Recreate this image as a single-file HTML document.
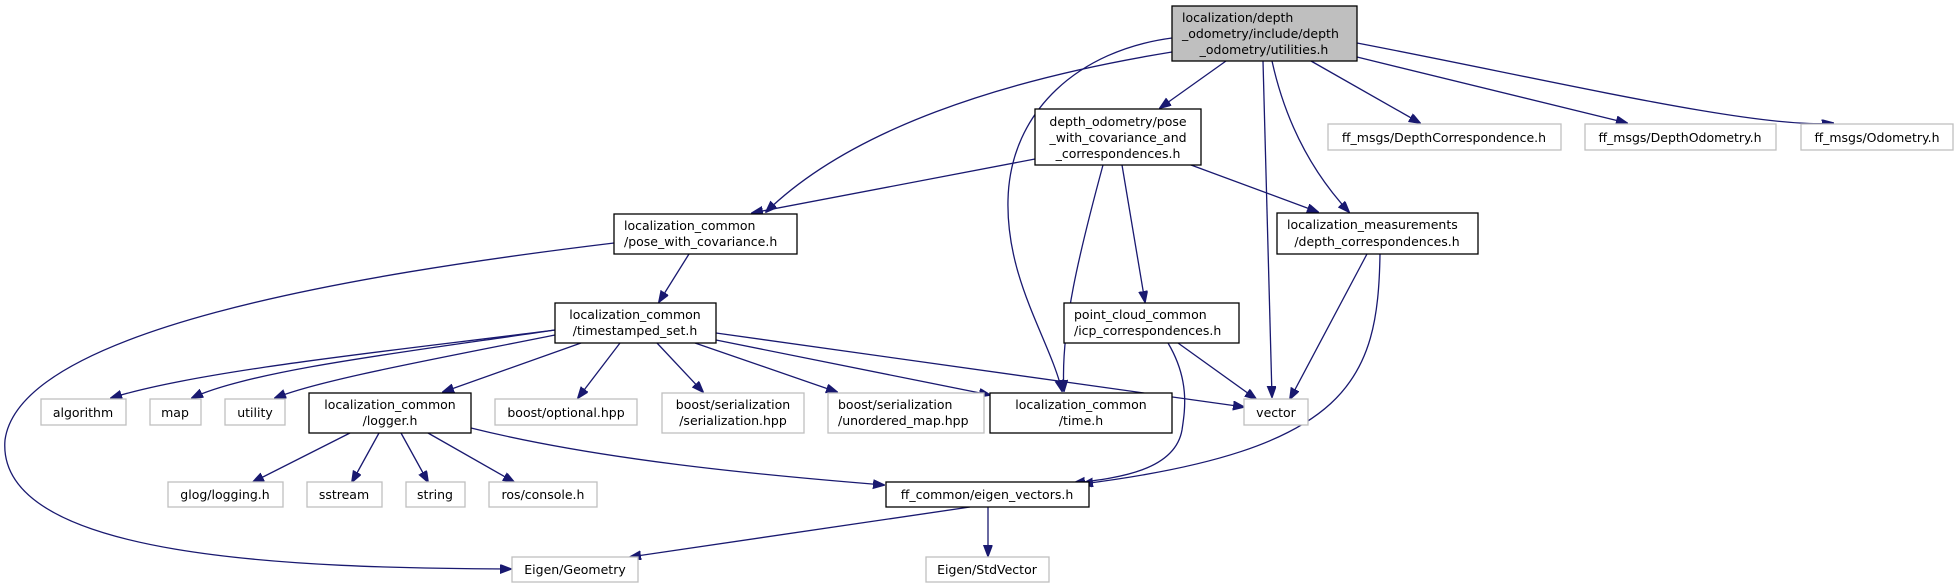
<!DOCTYPE html>
<html><head><meta charset="utf-8"><style>
html,body{margin:0;padding:0;background:#fff;}
svg{display:block;}
text{font-family:"DejaVu Sans","Liberation Sans",sans-serif;font-size:12.5px;fill:#000;}
.e{fill:none;stroke:#191970;stroke-width:1.3;marker-end:url(#a);}
.b{fill:#fff;stroke:#000;stroke-width:1.3;}
.g{fill:#fff;stroke:#bfbfbf;stroke-width:1.3;}
</style></head><body>
<svg width="1958" height="588" viewBox="0 0 1958 588" xmlns="http://www.w3.org/2000/svg">
<defs><marker id="a" markerWidth="12" markerHeight="10" refX="11" refY="4.5" orient="auto" markerUnits="userSpaceOnUse"><path d="M0,0 L12,4.5 L0,9 z" fill="#191970" stroke="#191970"/></marker></defs>

<!-- edges from root -->
<path class="e" d="M1172,52 C1000,80 850,130 766,212"/>
<path class="e" d="M1172,38 C1080,50 1010,110 1008,200 C1006,280 1050,340 1062,391"/>
<path class="e" d="M1226,61 L1160,108"/>
<path class="e" d="M1263,61 C1266,200 1270,320 1272,397"/>
<path class="e" d="M1272,61 C1285,120 1310,170 1349,212"/>
<path class="e" d="M1311,61 L1420,123"/>
<path class="e" d="M1357,57 L1627,123"/>
<path class="e" d="M1357,43 C1550,80 1760,130 1833,123"/>
<!-- pose_and_corr -->
<path class="e" d="M1035,159 L752,213"/>
<path class="e" d="M1103,165 C1080,250 1060,330 1064,391"/>
<path class="e" d="M1122,165 L1145,302"/>
<path class="e" d="M1191,165 L1318,212"/>
<!-- pose_with_cov -->
<path class="e" d="M689,254 L659,302"/>
<path class="e" d="M614,243 C350,275 20,330 5,440 C-5,560 300,568 511,569"/>
<!-- timestamped -->
<path class="e" d="M555,330 C400,350 200,370 111,398"/>
<path class="e" d="M555,330 C420,350 250,370 192,398"/>
<path class="e" d="M555,335 C430,360 320,380 275,398"/>
<path class="e" d="M581,343 L443,392"/>
<path class="e" d="M620,343 L578,398"/>
<path class="e" d="M657,343 L703,392"/>
<path class="e" d="M695,343 L837,392"/>
<path class="e" d="M716,340 L990,395"/>
<path class="e" d="M716,333 L1244,407"/>
<!-- logger -->
<path class="e" d="M350,433 L253,482"/>
<path class="e" d="M379,433 L352,482"/>
<path class="e" d="M401,433 L428,482"/>
<path class="e" d="M428,433 L514,482"/>
<path class="e" d="M471,428 C600,460 760,475 884,485"/>
<!-- icp -->
<path class="e" d="M1178,343 L1256,399"/>
<path class="e" d="M1168,343 C1190,380 1185,410 1182,430 C1175,470 1120,478 1074,483"/>
<!-- loc_meas -->
<path class="e" d="M1367,254 L1290,399"/>
<path class="e" d="M1380,254 C1378,380 1350,450 1082,484"/>
<!-- eigen vectors -->
<path class="e" d="M970,507 L630,557"/>
<path class="e" d="M988,507 L988,556"/>

<!-- nodes -->
<rect x="1172" y="6" width="185" height="55" fill="#bfbfbf" stroke="#000" stroke-width="1.3"/>
<text x="1182" y="22">localization/depth</text>
<text x="1182" y="38">_odometry/include/depth</text>
<text x="1264" y="54" text-anchor="middle">_odometry/utilities.h</text>

<rect class="b" x="1035" y="109" width="166" height="56"/>
<text x="1118" y="126" text-anchor="middle">depth_odometry/pose</text>
<text x="1118" y="142" text-anchor="middle">_with_covariance_and</text>
<text x="1118" y="158" text-anchor="middle">_correspondences.h</text>

<rect class="g" x="1328" y="124" width="233" height="26"/>
<text x="1444" y="142" text-anchor="middle">ff_msgs/DepthCorrespondence.h</text>
<rect class="g" x="1585" y="124" width="191" height="26"/>
<text x="1680" y="142" text-anchor="middle">ff_msgs/DepthOdometry.h</text>
<rect class="g" x="1801" y="124" width="152" height="26"/>
<text x="1877" y="142" text-anchor="middle">ff_msgs/Odometry.h</text>

<rect class="b" x="614" y="214" width="183" height="40"/>
<text x="624" y="230">localization_common</text>
<text x="624" y="246">/pose_with_covariance.h</text>

<rect class="b" x="1277" y="213" width="201" height="41"/>
<text x="1287" y="229">localization_measurements</text>
<text x="1377" y="246" text-anchor="middle">/depth_correspondences.h</text>

<rect class="b" x="555" y="303" width="161" height="40"/>
<text x="635" y="319" text-anchor="middle">localization_common</text>
<text x="635" y="335" text-anchor="middle">/timestamped_set.h</text>

<rect class="b" x="1064" y="303" width="175" height="40"/>
<text x="1074" y="319">point_cloud_common</text>
<text x="1074" y="335">/icp_correspondences.h</text>

<rect class="g" x="41" y="399" width="85" height="26"/>
<text x="83" y="417" text-anchor="middle">algorithm</text>
<rect class="g" x="150" y="399" width="51" height="26"/>
<text x="175" y="417" text-anchor="middle">map</text>
<rect class="g" x="225" y="399" width="60" height="26"/>
<text x="255" y="417" text-anchor="middle">utility</text>

<rect class="b" x="309" y="393" width="162" height="40"/>
<text x="390" y="409" text-anchor="middle">localization_common</text>
<text x="390" y="425" text-anchor="middle">/logger.h</text>

<rect class="g" x="495" y="399" width="142" height="26"/>
<text x="566" y="417" text-anchor="middle">boost/optional.hpp</text>
<rect class="g" x="662" y="393" width="142" height="40"/>
<text x="733" y="409" text-anchor="middle">boost/serialization</text>
<text x="733" y="425" text-anchor="middle">/serialization.hpp</text>
<rect class="g" x="828" y="393" width="156" height="40"/>
<text x="838" y="409">boost/serialization</text>
<text x="838" y="425">/unordered_map.hpp</text>

<rect class="b" x="990" y="393" width="182" height="40"/>
<text x="1081" y="409" text-anchor="middle">localization_common</text>
<text x="1081" y="425" text-anchor="middle">/time.h</text>

<rect class="g" x="1244" y="399" width="64" height="26"/>
<text x="1276" y="417" text-anchor="middle">vector</text>

<rect class="g" x="168" y="482" width="115" height="25"/>
<text x="225" y="499" text-anchor="middle">glog/logging.h</text>
<rect class="g" x="307" y="482" width="75" height="25"/>
<text x="344" y="499" text-anchor="middle">sstream</text>
<rect class="g" x="406" y="482" width="59" height="25"/>
<text x="435" y="499" text-anchor="middle">string</text>
<rect class="g" x="489" y="482" width="108" height="25"/>
<text x="543" y="499" text-anchor="middle">ros/console.h</text>

<rect class="b" x="886" y="482" width="203" height="25"/>
<text x="987" y="499" text-anchor="middle">ff_common/eigen_vectors.h</text>

<rect class="g" x="512" y="557" width="126" height="25"/>
<text x="575" y="574" text-anchor="middle">Eigen/Geometry</text>
<rect class="g" x="926" y="557" width="123" height="25"/>
<text x="987" y="574" text-anchor="middle">Eigen/StdVector</text>
</svg>
</body></html>
